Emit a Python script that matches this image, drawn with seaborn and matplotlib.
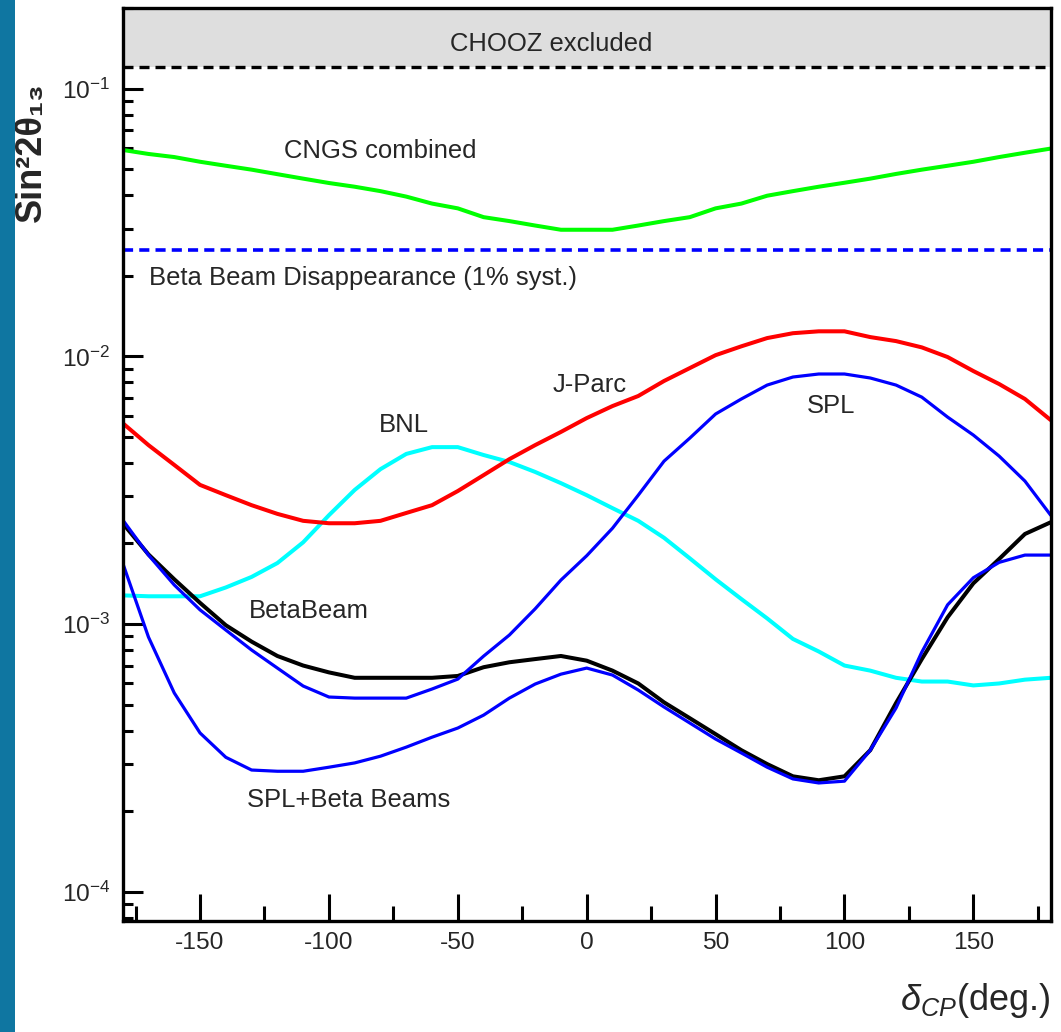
import matplotlib
matplotlib.use("Agg")
import matplotlib.pyplot as plt
import seaborn as sns
import pandas as pd
from matplotlib import font_manager as fm
from matplotlib.ticker import MultipleLocator, LogLocator, NullFormatter, LogFormatterSciNotation
from matplotlib.patches import Rectangle

# ---------------- data ----------------
delta_cp = [-180, -170, -160, -150, -140, -130, -120, -110, -100, -90, -80, -70, -60,
            -50, -40, -30, -20, -10, 0, 10, 20, 30, 40, 50, 60, 70, 80, 90, 100,
            110, 120, 130, 140, 150, 160, 170, 180]

cngs_combined = [0.0590, 0.0570, 0.0555, 0.0533, 0.0515, 0.0498, 0.0479, 0.0461, 0.0444,
                 0.0430, 0.0414, 0.0395, 0.0372, 0.0357, 0.0331, 0.0320, 0.0308, 0.0297,
                 0.0297, 0.0297, 0.0308, 0.0320, 0.0331, 0.0357, 0.0372, 0.0398, 0.0414,
                 0.0430, 0.0445, 0.0461, 0.0480, 0.0498, 0.0515, 0.0533, 0.0555, 0.0576,
                 0.0597]

jparc = [0.00563, 0.00466, 0.00393, 0.00331, 0.00303, 0.00278, 0.00258, 0.00243, 0.00238,
         0.00238, 0.00243, 0.00260, 0.00278, 0.00314, 0.00360, 0.00413, 0.00466, 0.00522,
         0.00588, 0.00652, 0.00711, 0.00809, 0.00904, 0.0101, 0.0109, 0.0117, 0.0122,
         0.0124, 0.0124, 0.0118, 0.0114, 0.0108, 0.00994, 0.00881, 0.00788, 0.00693,
         0.00578]

bnl = [0.00128, 0.00127, 0.00127, 0.00127, 0.00137, 0.00150, 0.00169, 0.00202, 0.00255,
       0.00317, 0.00379, 0.00432, 0.00458, 0.00458, 0.00428, 0.00403, 0.00370, 0.00336,
       0.00303, 0.00271, 0.00243, 0.00210, 0.00176, 0.00147, 0.00124, 0.00105, 0.00088,
       0.00079, 0.00070, 0.00067, 0.00063, 0.00061, 0.00061, 0.00059, 0.00060, 0.00062,
       0.00063]

spl = [0.00245, 0.00181, 0.00140, 0.00113, 0.00095, 0.00080, 0.000685, 0.000587, 0.000534,
       0.000529, 0.000529, 0.000529, 0.000572, 0.000623, 0.000759, 0.000910, 0.00114,
       0.00146, 0.00180, 0.00228, 0.00303, 0.00406, 0.00495, 0.00609, 0.00693, 0.00781,
       0.00837, 0.00859, 0.00859, 0.00830, 0.00781, 0.00704, 0.00593, 0.00508, 0.00424,
       0.00342, 0.00255]

betabeam = [0.00238, 0.00182, 0.00147, 0.00120, 0.00099, 0.00086, 0.00076, 0.00070, 0.00066,
            0.00063, 0.00063, 0.00063, 0.00063, 0.00064, 0.00069, 0.00072, 0.00074, 0.00076,
            0.00073, 0.00067, 0.00060, 0.00051, 0.000445, 0.000388, 0.000338, 0.000300,
            0.000270, 0.000261, 0.000270, 0.000338, 0.000507, 0.00074, 0.00106, 0.00142,
            0.00175, 0.00217, 0.00240]

spl_betabeams = [0.00169, 0.000894, 0.000553, 0.000392, 0.000318, 0.000285, 0.000282,
                 0.000282, 0.000292, 0.000303, 0.000321, 0.000347, 0.000378, 0.000409,
                 0.000457, 0.000529, 0.000597, 0.000650, 0.000685, 0.000645, 0.000567,
                 0.000490, 0.000427, 0.000372, 0.000330, 0.000292, 0.000264, 0.000255,
                 0.000259, 0.000338, 0.000486, 0.000786, 0.00118, 0.00149, 0.00170,
                 0.00181, 0.00181]

chooz_limit = 0.12
bb_disappearance = 0.025
y_top = 0.2
y_bottom = 7.8e-5

x_ticks_major = [-150, -100, -50, 0, 50, 100, 150]

# ---------------- style ----------------
sns.set_style("white")


def has_font(name):
    try:
        path = fm.findfont(fm.FontProperties(family=name), fallback_to_default=False)
        return path
    except Exception:
        return None


narrow_path = has_font("Liberation Sans Narrow")
if narrow_path and "arrow" in narrow_path:
    NARROW = "Liberation Sans Narrow"
    SCALE = 1.0
else:
    NARROW = "Liberation Sans"
    SCALE = 0.84

plt.rcParams["font.family"] = [NARROW, "DejaVu Sans"]
plt.rcParams["mathtext.fontset"] = "custom"
plt.rcParams["mathtext.rm"] = NARROW
plt.rcParams["mathtext.it"] = NARROW + ":italic"
plt.rcParams["mathtext.bf"] = NARROW + ":bold"
plt.rcParams["axes.unicode_minus"] = False

fig = plt.figure(figsize=(10.61, 10.32), dpi=100)
fig.patch.set_facecolor("white")
fig.patches.append(Rectangle((0, 0), 15 / 1061, 1, transform=fig.transFigure,
                             facecolor="#0f76a1", edgecolor="none", zorder=0))
ax = fig.add_axes([0.11565, 0.10785, 0.87465, 0.88440])
ax.set_facecolor("white")

df = pd.DataFrame({"delta": delta_cp, "cngs": cngs_combined, "jparc": jparc, "bnl": bnl,
                   "spl": spl, "bb": betabeam, "splbb": spl_betabeams})

ax.axhspan(chooz_limit, y_top, color="#dedede", zorder=0, lw=0)
ax.axhline(chooz_limit, color="black", lw=2.4, dashes=(3.0, 1.8), zorder=2)
ax.axhline(bb_disappearance, color="#0000ff", lw=2.6, dashes=(2.8, 1.7), zorder=2)

sns.lineplot(data=df, x="delta", y="cngs", color="#00ff00", lw=2.9, ax=ax, sort=False)
sns.lineplot(data=df, x="delta", y="bnl", color="#00ffff", lw=2.9, ax=ax, sort=False)
sns.lineplot(data=df, x="delta", y="jparc", color="#ff0000", lw=2.9, ax=ax, sort=False)
sns.lineplot(data=df, x="delta", y="bb", color="black", lw=2.9, ax=ax, sort=False)
sns.lineplot(data=df, x="delta", y="spl", color="#0000ff", lw=2.3, ax=ax, sort=False)
sns.lineplot(data=df, x="delta", y="splbb", color="#0000ff", lw=2.3, ax=ax, sort=False)

ax.set_yscale("log")
ax.set_xlim(-180, 180)
ax.set_ylim(y_bottom, y_top)

# ticks
ax.xaxis.set_major_locator(MultipleLocator(50))
ax.xaxis.set_minor_locator(MultipleLocator(25))
ax.set_xticks(x_ticks_major)
ax.yaxis.set_major_locator(LogLocator(base=10, numticks=10))
ax.yaxis.set_minor_locator(LogLocator(base=10, subs=[2, 3, 4, 5, 6, 7, 8, 9], numticks=20))
ax.yaxis.set_major_formatter(LogFormatterSciNotation())
ax.yaxis.set_minor_formatter(NullFormatter())

tick_fs = 21 * SCALE
ax.tick_params(axis="x", which="major", direction="in", length=19.4, width=2.2,
               labelsize=tick_fs, pad=8, top=False, bottom=True, color="black")
ax.tick_params(axis="x", which="minor", direction="in", length=10.6, width=2.2,
               top=False, bottom=True, color="black")
ax.tick_params(axis="y", which="major", direction="in", length=14.4, width=2.2,
               labelsize=tick_fs, pad=9, left=True, right=False, color="black")
ax.tick_params(axis="y", which="minor", direction="in", length=7.2, width=2.2,
               left=True, right=False, color="black")

for side in ["left", "right", "top", "bottom"]:
    ax.spines[side].set_visible(True)
    ax.spines[side].set_color("black")
    ax.spines[side].set_linewidth(2.4)

# axis labels
ax.set_xlabel(r"$\delta_{CP}$(deg.)", fontsize=31 * SCALE)
ax.xaxis.set_label_coords(1.0, -0.087)
ax.xaxis.label.set_ha("right")
ax.xaxis.label.set_va("center")

ax.set_ylabel("Sin²2θ₁₃", fontsize=26, fontweight="bold",
              family=["Liberation Sans", "DejaVu Sans"])
ax.yaxis.set_label_coords(-0.098, 0.842)
ax.yaxis.label.set_ha("center")
ax.yaxis.label.set_va("center")
ax.yaxis.label.set_zorder(5)

# curve annotations
lab_fs = 22 * SCALE
ax.text(-13.9, 0.147, "CHOOZ excluded", fontsize=lab_fs, ha="center", va="center")
ax.text(-80.2, 0.0585, "CNGS combined", fontsize=lab_fs, ha="center", va="center")
ax.text(-169.9, 0.0196, "Beta Beam Disappearance (1% syst.)", fontsize=lab_fs,
        ha="left", va="center")
ax.text(1.3, 0.00781, "J-Parc", fontsize=lab_fs, ha="center", va="center")
ax.text(94.7, 0.00652, "SPL", fontsize=lab_fs, ha="center", va="center")
ax.text(-70.9, 0.00554, "BNL", fontsize=lab_fs, ha="center", va="center")
ax.text(-107.7, 0.00112, "BetaBeam", fontsize=lab_fs, ha="center", va="center")
ax.text(-92.5, 0.00022, "SPL+Beta Beams", fontsize=lab_fs, ha="center", va="center")

fig.savefig("out.png", dpi=100, facecolor="white")
